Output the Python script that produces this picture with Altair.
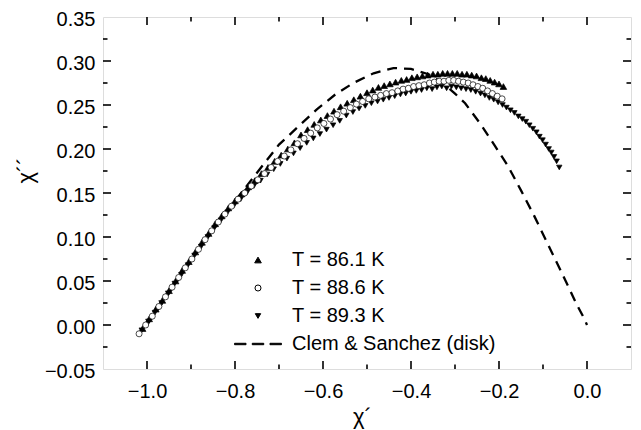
import altair as alt
import pandas as pd

# ---------------- data ----------------
x86 = [-1.010, -0.995, -0.980, -0.965, -0.950, -0.935, -0.920, -0.905, -0.890, -0.875,
       -0.860, -0.845, -0.830, -0.815, -0.800, -0.785, -0.770, -0.755, -0.740, -0.725,
       -0.710, -0.695, -0.680, -0.665, -0.650, -0.635, -0.620, -0.605, -0.590, -0.575,
       -0.560, -0.545, -0.530, -0.515, -0.500, -0.487, -0.474, -0.461, -0.448, -0.435,
       -0.422, -0.410, -0.398, -0.386, -0.374, -0.362, -0.350, -0.339, -0.328, -0.317,
       -0.306, -0.295, -0.284, -0.273, -0.262, -0.251, -0.240, -0.230, -0.220, -0.210,
       -0.200, -0.190]
y86 = [-0.004, 0.007, 0.018, 0.028, 0.039, 0.050, 0.062, 0.072, 0.083, 0.094,
       0.104, 0.115, 0.124, 0.133, 0.141, 0.149, 0.157, 0.164, 0.172, 0.179,
       0.186, 0.193, 0.200, 0.207, 0.216, 0.222, 0.228, 0.233, 0.238, 0.243,
       0.248, 0.252, 0.256, 0.260, 0.264, 0.267, 0.270, 0.272, 0.274, 0.276,
       0.278, 0.279, 0.281, 0.282, 0.283, 0.284, 0.285, 0.285, 0.286, 0.286,
       0.286, 0.286, 0.285, 0.285, 0.284, 0.283, 0.281, 0.280, 0.278, 0.276,
       0.274, 0.271]

x88 = [-1.018, -1.003, -0.988, -0.973, -0.958, -0.943, -0.928, -0.913, -0.898, -0.883,
       -0.868, -0.853, -0.838, -0.823, -0.808, -0.793, -0.778, -0.763, -0.748, -0.733,
       -0.718, -0.703, -0.688, -0.673, -0.658, -0.643, -0.628, -0.613, -0.598, -0.583,
       -0.568, -0.553, -0.538, -0.524, -0.510, -0.496, -0.482, -0.469, -0.456, -0.443,
       -0.430, -0.418, -0.406, -0.394, -0.382, -0.370, -0.358, -0.347, -0.336, -0.325,
       -0.314, -0.303, -0.292, -0.281, -0.270, -0.259, -0.248, -0.237, -0.226, -0.215,
       -0.204, -0.193]
y88 = [-0.010, 0.000, 0.010, 0.021, 0.032, 0.043, 0.054, 0.065, 0.075, 0.086,
       0.097, 0.107, 0.117, 0.126, 0.135, 0.143, 0.150, 0.158, 0.165, 0.172,
       0.179, 0.186, 0.192, 0.199, 0.206, 0.212, 0.218, 0.224, 0.229, 0.234,
       0.239, 0.243, 0.247, 0.251, 0.254, 0.257, 0.259, 0.261, 0.263, 0.264,
       0.266, 0.268, 0.269, 0.271, 0.272, 0.273, 0.275, 0.276, 0.277, 0.277,
       0.278, 0.278, 0.277, 0.276, 0.275, 0.273, 0.271, 0.269, 0.266, 0.263,
       0.260, 0.257]

x89 = [-1.012, -0.997, -0.982, -0.967, -0.952, -0.937, -0.922, -0.907, -0.892, -0.877,
       -0.862, -0.847, -0.832, -0.817, -0.802, -0.787, -0.772, -0.757, -0.742, -0.727,
       -0.712, -0.697, -0.682, -0.667, -0.652, -0.637, -0.622, -0.607, -0.592, -0.577,
       -0.562, -0.547, -0.532, -0.518, -0.504, -0.490, -0.476, -0.463, -0.450, -0.437,
       -0.424, -0.412, -0.400, -0.388, -0.376, -0.364, -0.352, -0.341, -0.330, -0.319,
       -0.308, -0.297, -0.286, -0.275, -0.264, -0.253, -0.242, -0.232, -0.222, -0.212,
       -0.202, -0.192, -0.183, -0.174, -0.165, -0.156, -0.147, -0.139, -0.131, -0.123,
       -0.115, -0.108, -0.101, -0.094, -0.087, -0.081, -0.075, -0.069, -0.063]
y89 = [-0.006, 0.004, 0.014, 0.025, 0.036, 0.047, 0.057, 0.068, 0.079, 0.089,
       0.100, 0.110, 0.119, 0.128, 0.136, 0.143, 0.151, 0.158, 0.164, 0.171,
       0.177, 0.183, 0.189, 0.195, 0.201, 0.207, 0.212, 0.217, 0.222, 0.227,
       0.232, 0.238, 0.242, 0.246, 0.249, 0.252, 0.254, 0.256, 0.258, 0.260,
       0.262, 0.263, 0.265, 0.266, 0.267, 0.269, 0.268, 0.270, 0.271, 0.269,
       0.271, 0.270, 0.269, 0.268, 0.267, 0.265, 0.263, 0.261, 0.258, 0.256,
       0.253, 0.250, 0.247, 0.244, 0.241, 0.237, 0.234, 0.231, 0.227, 0.223,
       0.219, 0.214, 0.210, 0.205, 0.200, 0.196, 0.191, 0.186, 0.179]

cs_x = [-1.0, -0.95, -0.9, -0.85, -0.8, -0.75, -0.70, -0.655, -0.614, -0.572,
        -0.531, -0.485, -0.44, -0.40, -0.36, -0.33, -0.30, -0.277, -0.24, -0.21,
        -0.18, -0.15, -0.12, -0.09, -0.06, -0.039, -0.025, -0.005, 0.0]
cs_y = [0.0, 0.036, 0.073, 0.108, 0.141, 0.173, 0.205, 0.226, 0.245, 0.262,
        0.275, 0.286, 0.292, 0.291, 0.285, 0.276, 0.263, 0.252, 0.227, 0.204,
        0.181, 0.153, 0.124, 0.093, 0.062, 0.040, 0.025, 0.006, 0.0]

series_names = ["T = 86.1 K", "T = 88.6 K", "T = 89.3 K", "Clem & Sanchez (disk)"]

x_major = [-1.0, -0.8, -0.6, -0.4, -0.2, 0.0]
x_minor = [-0.9, -0.7, -0.5, -0.3, -0.1]
y_labels = [-0.05, 0.0, 0.05, 0.10, 0.15, 0.20, 0.25, 0.30, 0.35]
y_major = [0.0, 0.05, 0.10, 0.15, 0.20, 0.25, 0.30]
y_minor = [-0.025, 0.025, 0.075, 0.125, 0.175, 0.225, 0.275, 0.325]

# ---------------- build tables ----------------
pts = pd.concat([
    pd.DataFrame({"x": x86, "y": y86, "s": series_names[0]}),
    pd.DataFrame({"x": x89, "y": y89, "s": series_names[2]}),
    pd.DataFrame({"x": x88, "y": y88, "s": series_names[1]}),
], ignore_index=True)
cs = pd.DataFrame({"x": cs_x, "y": cs_y})

W, H = 528, 352
FONT = "Liberation Sans"
xscale = alt.Scale(domain=[-1.1, 0.1], nice=False, zero=False)
yscale = alt.Scale(domain=[-0.05, 0.35], nice=False, zero=False)

x_axis = alt.Axis(values=x_major, format=".1f", title="χ´",
                  labelFontSize=20, labelFont=FONT, labelColor="black",
                  labelPadding=12, ticks=False, domain=False, grid=False,
                  labelFlush=False,
                  titleFont=FONT, titleFontSize=22, titleFontWeight="normal",
                  titleColor="black", titleX=259, titleY=54,
                  titleBaseline="alphabetic", titleAlign="center")
y_axis = alt.Axis(values=y_labels, format=".2f", title="χ´´",
                  labelFontSize=20, labelFont=FONT, labelColor="black",
                  labelPadding=8, labelOffset=2, ticks=False, domain=False,
                  grid=False, labelFlush=False, labelOverlap=False,
                  titleFont=FONT, titleFontSize=22, titleFontWeight="normal",
                  titleColor="black", titleX=-71, titleY=153, titleAngle=-90,
                  titleBaseline="alphabetic", titleAlign="center")

dash_path = ("M-10,-0.3L-5.1,-0.3L-5.1,0.3L-10,0.3Z "
             "M-2.45,-0.3L2.45,-0.3L2.45,0.3L-2.45,0.3Z "
             "M5.1,-0.3L10,-0.3L10,0.3L5.1,0.3Z")

legend = alt.Legend(title=None, orient="none", legendX=145, legendY=233,
                    padding=0, rowPadding=8, labelOffset=24, labelLimit=400,
                    labelFont=FONT, labelFontSize=20, labelColor="black",
                    symbolStrokeWidth=1)

line = alt.Chart(cs).mark_line(color="black", strokeWidth=2.3,
                               strokeDash=[10, 7]).encode(
    x=alt.X("x:Q", scale=xscale, axis=x_axis),
    y=alt.Y("y:Q", scale=yscale, axis=y_axis),
)

points = alt.Chart(pts).mark_point(filled=True, opacity=1,
                                   strokeWidth=0.7).encode(
    x=alt.X("x:Q", scale=xscale, axis=x_axis),
    y=alt.Y("y:Q", scale=yscale, axis=y_axis),
    shape=alt.Shape("s:N", scale=alt.Scale(domain=series_names,
                    range=["triangle-up", "circle", "triangle-down", dash_path]),
                    legend=legend),
    fill=alt.Fill("s:N", scale=alt.Scale(domain=series_names,
                  range=["black", "white", "black", "black"]), legend=legend),
    stroke=alt.Stroke("s:N", scale=alt.Scale(domain=series_names,
                      range=["black", "black", "black", "black"]), legend=legend),
    size=alt.Size("s:N", scale=alt.Scale(domain=series_names,
                  range=[44, 22, 44, 44]), legend=legend),
)


def xticks(vals, length, bottom):
    d = pd.DataFrame({"x": vals})
    y0, y1 = (H, H - length) if bottom else (0, length)
    return alt.Chart(d).mark_rule(color="black", strokeWidth=1.6).encode(
        x=alt.X("x:Q", scale=xscale, axis=x_axis),
        y=alt.value(y0), y2=alt.value(y1))


def yticks(vals, length, left):
    d = pd.DataFrame({"y": vals})
    x0, x1 = (0, length) if left else (W, W - length)
    return alt.Chart(d).mark_rule(color="black", strokeWidth=1.6).encode(
        y=alt.Y("y:Q", scale=yscale, axis=y_axis),
        x=alt.value(x0), x2=alt.value(x1))


tick_layers = [
    xticks(x_major, 8, True), xticks(x_minor, 4.5, True),
    xticks(x_major, 8, False), xticks(x_minor, 4.5, False),
    yticks(y_major, 8, True), yticks(y_minor, 4.5, True),
    yticks(y_major, 8, False), yticks(y_minor, 4.5, False),
]

chart = alt.layer(line, *tick_layers, points).properties(
    width=W, height=H,
    autosize=alt.AutoSizeParams(type="none"),
    padding={"left": 95, "top": 9, "right": 2, "bottom": 61},
    background="white",
).configure_view(stroke="black", strokeWidth=2).configure(font=FONT)

chart.save("out.html", embed_options={"renderer": "svg", "actions": False})
